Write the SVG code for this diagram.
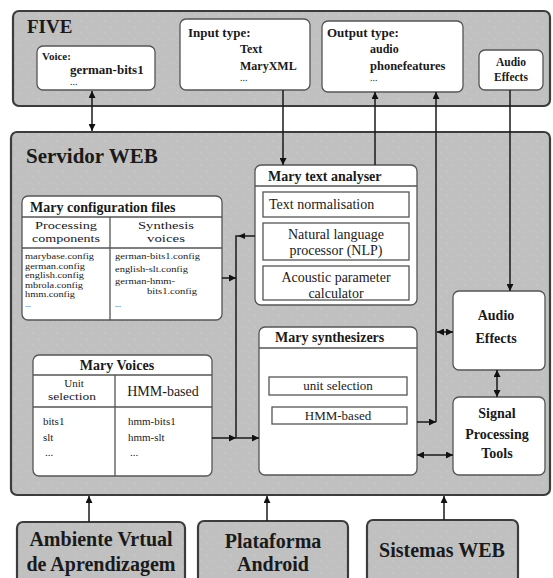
<svg xmlns="http://www.w3.org/2000/svg" width="553" height="578" viewBox="0 0 553 578">
<defs>
<marker id="ah" viewBox="0 0 8 8" refX="8" refY="4" markerWidth="7" markerHeight="7" markerUnits="userSpaceOnUse" orient="auto-start-reverse"><path d="M0,0 L8,4 L0,8 z" fill="#111"/></marker>
<pattern id="dots" width="12" height="12" patternUnits="userSpaceOnUse"><rect width="12" height="12" fill="#c0c0c0"/><circle cx="3" cy="3" r="0.6" fill="#d8d8c8"/><circle cx="9" cy="9" r="0.6" fill="#d8d8c8"/></pattern>
</defs>
<style>
.panel{fill:url(#dots);stroke:#3c3c3c;stroke-width:2.2}
.box{fill:#fff;stroke:#555;stroke-width:1.3}
.sep{stroke:#555;stroke-width:1.3;fill:none}
.ln{stroke:#1a1a1a;stroke-width:1.5;fill:none}
.a2{marker-start:url(#ah);marker-end:url(#ah)}
.a1{marker-end:url(#ah)}
text{font-family:"Liberation Serif","Times New Roman",serif;fill:#1a1a1a}
.b{font-weight:bold}
.m{text-anchor:middle}
.cf{font-size:8.2px}
.ch{font-size:11px}
</style>
<rect width="553" height="578" fill="#fff"/>

<g id="five">
<rect class="panel" x="13" y="11" width="537" height="95" rx="6"/>
<text class="b" x="27" y="33" font-size="19">FIVE</text>
</g>
<g id="voice">
<rect class="box" x="37" y="46" width="118" height="44" rx="6"/>
<text class="b" x="42" y="60" font-size="11">Voice:</text>
<text class="b" x="70" y="74" font-size="13">german-bits1</text>
<text x="70" y="85" font-size="10">...</text>
</g>
<g id="input-type">
<rect class="box" x="180" y="19" width="130" height="71" rx="6"/>
<text class="b" x="188" y="37" font-size="13">Input type:</text>
<text class="b" x="240" y="53" font-size="12">Text</text>
<text class="b" x="240" y="70" font-size="12">MaryXML</text>
<text x="240" y="81" font-size="10">...</text>
</g>
<g id="output-type">
<rect class="box" x="322" y="21" width="141" height="71" rx="6"/>
<text class="b" x="327" y="37" font-size="13">Output type:</text>
<text class="b" x="370" y="53" font-size="12">audio</text>
<text class="b" x="370" y="70" font-size="12.5">phonefeatures</text>
<text x="370" y="81" font-size="10">...</text>
</g>
<g id="audio-effects-five">
<rect class="box" x="479" y="50" width="64" height="40" rx="6"/>
<text class="b m" x="511" y="66" font-size="11.5">Audio</text>
<text class="b m" x="511" y="81" font-size="11.5">Effects</text>
</g>

<g id="servidor">
<rect class="panel" x="11" y="132" width="539" height="363" rx="6"/>
<text class="b" x="26" y="163" font-size="21">Servidor WEB</text>
</g>

<g id="config-files">
<rect class="box" x="22" y="196" width="200" height="124" rx="6"/>
<text class="b" x="30" y="212" font-size="14">Mary configuration files</text>
<path class="sep" d="M22,217 H222 M110,217 V320 M22,248 H222"/>
<text class="ch m" x="66" y="229" textLength="62" lengthAdjust="spacingAndGlyphs">Processing</text>
<text class="ch m" x="66" y="242" textLength="68" lengthAdjust="spacingAndGlyphs">components</text>
<text class="ch m" x="166" y="229" textLength="56" lengthAdjust="spacingAndGlyphs">Synthesis</text>
<text class="ch m" x="166" y="242" textLength="38" lengthAdjust="spacingAndGlyphs">voices</text>
<text class="cf" x="25" y="259" textLength="69" lengthAdjust="spacingAndGlyphs">marybase.config</text>
<text class="cf" x="25" y="268.6" textLength="60" lengthAdjust="spacingAndGlyphs">german.config</text>
<text class="cf" x="25" y="278.2" textLength="59" lengthAdjust="spacingAndGlyphs">english.config</text>
<text class="cf" x="25" y="287.8" textLength="58" lengthAdjust="spacingAndGlyphs">mbrola.config</text>
<text class="cf" x="25" y="297.4" textLength="50" lengthAdjust="spacingAndGlyphs">hmm.config</text>
<text class="cf" x="25" y="307">...</text>
<text class="cf" x="115" y="259" textLength="85" lengthAdjust="spacingAndGlyphs">german-bits1.config</text>
<text class="cf" x="115" y="272" textLength="73" lengthAdjust="spacingAndGlyphs">english-slt.config</text>
<text class="cf" x="115" y="284" textLength="60" lengthAdjust="spacingAndGlyphs">german-hmm-</text>
<text class="cf" x="147" y="294" textLength="50" lengthAdjust="spacingAndGlyphs">bits1.config</text>
<text class="cf" x="115" y="307">...</text>
</g>

<g id="mary-voices">
<rect class="box" x="33" y="355" width="179" height="121" rx="6"/>
<text class="b m" x="117" y="370" font-size="14">Mary Voices</text>
<path class="sep" d="M33,375 H212 M115,375 V476 M33,407 H212"/>
<text class="ch m" x="74" y="387">Unit</text>
<text class="ch m" x="72" y="400" textLength="48" lengthAdjust="spacingAndGlyphs">selection</text>
<text class="m" x="163" y="396" font-size="14">HMM-based</text>
<g font-size="11">
<text x="43" y="425">bits1</text>
<text x="43" y="441">slt</text>
<text x="45" y="456">...</text>
<text x="128" y="425">hmm-bits1</text>
<text x="128" y="441">hmm-slt</text>
<text x="130" y="456">...</text>
</g>
</g>

<g id="text-analyser">
<rect class="box" x="255" y="165" width="162" height="140" rx="6"/>
<text class="b" x="268" y="181" font-size="14">Mary text analyser</text>
<path class="sep" d="M255,186 H417"/>
<rect class="box" x="263" y="192" width="146" height="25" stroke="#333"/>
<text x="269" y="209" font-size="14">Text normalisation</text>
<rect class="box" x="263" y="223" width="146" height="37" stroke="#333"/>
<text class="m" x="336" y="239" font-size="14">Natural language</text>
<text class="m" x="336" y="255" font-size="14">processor (NLP)</text>
<rect class="box" x="263" y="266" width="146" height="34" stroke="#333"/>
<text class="m" x="336" y="282" font-size="14">Acoustic parameter</text>
<text class="m" x="336" y="298" font-size="14">calculator</text>
</g>

<g id="synthesizers">
<rect class="box" x="259" y="327" width="158" height="148" rx="6"/>
<text class="b" x="275" y="342" font-size="14">Mary synthesizers</text>
<path class="sep" d="M259,348 H417"/>
<rect class="box" x="269" y="377" width="138" height="18" stroke="#333"/>
<text class="m" x="338" y="390" font-size="13">unit selection</text>
<rect class="box" x="272" y="407" width="135" height="17" stroke="#333"/>
<text class="m" x="338" y="420" font-size="13">HMM-based</text>
</g>

<g id="audio-effects">
<rect class="box" x="453" y="291" width="92" height="79" rx="6"/>
<text class="b m" x="496" y="320" font-size="14">Audio</text>
<text class="b m" x="496" y="343" font-size="14">Effects</text>
</g>
<g id="signal-processing">
<rect class="box" x="453" y="397" width="92" height="78" rx="6"/>
<text class="b m" x="497" y="418" font-size="14">Signal</text>
<text class="b m" x="497" y="439" font-size="14">Processing</text>
<text class="b m" x="497" y="458" font-size="14">Tools</text>
</g>

<g id="ambiente">
<rect class="panel" x="17" y="522" width="168" height="70" rx="6"/>
<text class="b m" x="101" y="546" font-size="20">Ambiente Vrtual</text>
<text class="b m" x="101" y="571" font-size="20">de Aprendizagem</text>
</g>
<g id="android">
<rect class="panel" x="198" y="521" width="150" height="70" rx="6"/>
<text class="b m" x="273" y="548" font-size="20">Plataforma</text>
<text class="b m" x="273" y="571" font-size="20">Android</text>
</g>
<g id="sistemas">
<rect class="panel" x="367" y="520" width="151" height="70" rx="6"/>
<text class="b m" x="442" y="557" font-size="20">Sistemas WEB</text>
</g>

<g id="connectors">
<line class="ln a2" x1="92" y1="91" x2="92" y2="131"/>
<line class="ln a1" x1="283" y1="90" x2="283" y2="165"/>
<line class="ln a1" x1="375" y1="165" x2="375" y2="92"/>
<line class="ln a1" x1="436" y1="422" x2="436" y2="92"/>
<line class="ln a1" x1="417" y1="422" x2="436" y2="422"/>
<line class="ln a2" x1="437" y1="332" x2="453" y2="332"/>
<line class="ln a1" x1="510" y1="90" x2="510" y2="291"/>
<line class="ln a2" x1="497" y1="370" x2="497" y2="397"/>
<line class="ln a2" x1="417" y1="455" x2="453" y2="455"/>
<path class="ln" d="M236,438 V236 H255"/>
<path d="M238,236 L245,233 L245,239 z" fill="#111"/>
<line class="ln a1" x1="222" y1="278" x2="236" y2="278"/>
<line class="ln a1" x1="212" y1="438" x2="236" y2="438"/>
<line class="ln a1" x1="236" y1="438" x2="259" y2="438"/>
<line class="ln a1" x1="89" y1="522" x2="89" y2="496"/>
<line class="ln a1" x1="267" y1="521" x2="267" y2="496"/>
<line class="ln a1" x1="444" y1="520" x2="444" y2="496"/>
</g>
</svg>
